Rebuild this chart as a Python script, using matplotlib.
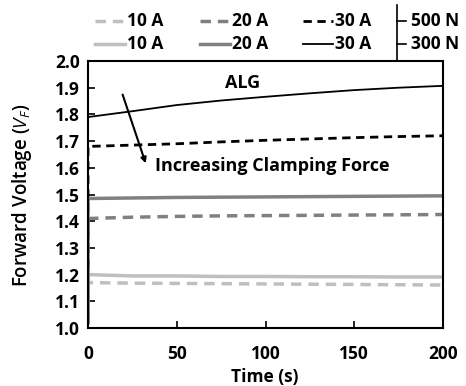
import numpy as np
import matplotlib.pyplot as plt
from matplotlib.lines import Line2D

plt.rcParams['font.family'] = ['Open Sans', 'DejaVu Sans']
plt.rcParams['mathtext.fontset'] = 'custom'
plt.rcParams['mathtext.it'] = 'Open Sans:italic'
plt.rcParams['mathtext.rm'] = 'Open Sans'

# time axis (s)
t = [0, 0, 25, 50, 75, 100, 125, 150, 175, 200]

# 300 N clamping force
v300_10 = [1.02, 1.20, 1.195, 1.195, 1.193, 1.193, 1.192, 1.192, 1.191, 1.191]
v300_20 = [1.02, 1.485, 1.487, 1.489, 1.490, 1.491, 1.492, 1.493, 1.494, 1.495]
v300_30 = [1.02, 1.79, 1.812, 1.835, 1.852, 1.866, 1.879, 1.891, 1.90, 1.907]

# 500 N clamping force
v500_10 = [1.02, 1.17, 1.168, 1.167, 1.166, 1.165, 1.164, 1.163, 1.162, 1.161]
v500_20 = [1.02, 1.41, 1.415, 1.418, 1.42, 1.421, 1.422, 1.423, 1.424, 1.425]
v500_30 = [1.02, 1.68, 1.685, 1.69, 1.697, 1.703, 1.708, 1.713, 1.717, 1.72]

currents = ['10 A', '20 A', '30 A']
forces = ['500 N', '300 N']

light = '#bfbfbf'
mid = '#808080'
dark = '#000000'
colors = [light, mid, dark]
dash = (0, (3, 2))
fs = 12.5

fig = plt.figure(figsize=(4.66, 3.86), dpi=100)
ax = fig.add_axes([88 / 466, 1 - 328 / 386, 355 / 466, 267 / 386])

ax.plot(t, v500_10, color=light, lw=2.5, ls=dash)
ax.plot(t, v500_20, color=mid, lw=2.5, ls=dash)
ax.plot(t, v500_30, color=dark, lw=2.0, ls=dash)
ax.plot(t, v300_10, color=light, lw=2.5)
ax.plot(t, v300_20, color=mid, lw=2.5)
ax.plot(t, v300_30, color=dark, lw=1.3)

ax.set_xlim(0, 200)
ax.set_ylim(1.0, 2.0)
ax.set_xticks([0, 50, 100, 150, 200])
ax.set_yticks(np.arange(1.0, 2.01, 0.1))
ax.set_yticklabels(['%.1f' % v for v in np.arange(1.0, 2.01, 0.1)])
ax.tick_params(direction='in', length=5, width=1.2, labelsize=fs)
ax.tick_params(axis='x', pad=12)
ax.tick_params(axis='y', pad=6)
for lab in ax.get_xticklabels() + ax.get_yticklabels():
    lab.set_fontweight('bold')
for sp in ax.spines.values():
    sp.set_linewidth(1.5)

fig.text(265 / 466, 1 - 377 / 386, 'Time (s)', fontsize=fs, fontweight='bold',
         ha='center', va='center')
fig.text(22 / 466, 1 - 195 / 386, 'Forward Voltage ($V_F$)', fontsize=13.5,
         fontweight='semibold', rotation=90, ha='center', va='center')

# annotations
ax.text(87, 1.918, 'ALG', fontsize=13, fontweight='bold', ha='center', va='center')
ax.annotate('', xy=(33, 1.607), xytext=(19, 1.884),
            arrowprops=dict(arrowstyle='-|>', color='black', lw=1.5, mutation_scale=8))
ax.text(38, 1.607, 'Increasing Clamping Force', fontsize=13, fontweight='bold',
        ha='left', va='center')

# legend above axes: row 1 = 500 N (dashed), row 2 = 300 N (solid)
row_y = [1 - 21 / 386, 1 - 44 / 386]
col_x = [95 / 466, 200 / 466, 303 / 466]
hlen = 30 / 466
for i, lab in enumerate(currents):
    for j in range(2):
        ls = dash if j == 0 else '-'
        lw = 2.5 if i < 2 else (2.0 if j == 0 else 1.3)
        fig.add_artist(Line2D([col_x[i], col_x[i] + hlen], [row_y[j], row_y[j]],
                              color=colors[i], lw=lw, ls=ls))
        fig.text(col_x[i] + hlen + 2 / 466, row_y[j], lab, fontsize=fs,
                 fontweight='bold', ha='left', va='center')

# bracket with force labels
bx = 397 / 466
fig.add_artist(Line2D([bx, bx], [1 - 5 / 386, 1 - 61 / 386], color='black', lw=1.2))
for j, f in enumerate(forces):
    fig.add_artist(Line2D([bx, bx + 9 / 466], [row_y[j], row_y[j]], color='black', lw=1.2))
    fig.text(411 / 466, row_y[j], f, fontsize=fs, fontweight='bold', va='center')

fig.savefig('out.png', dpi=100)
